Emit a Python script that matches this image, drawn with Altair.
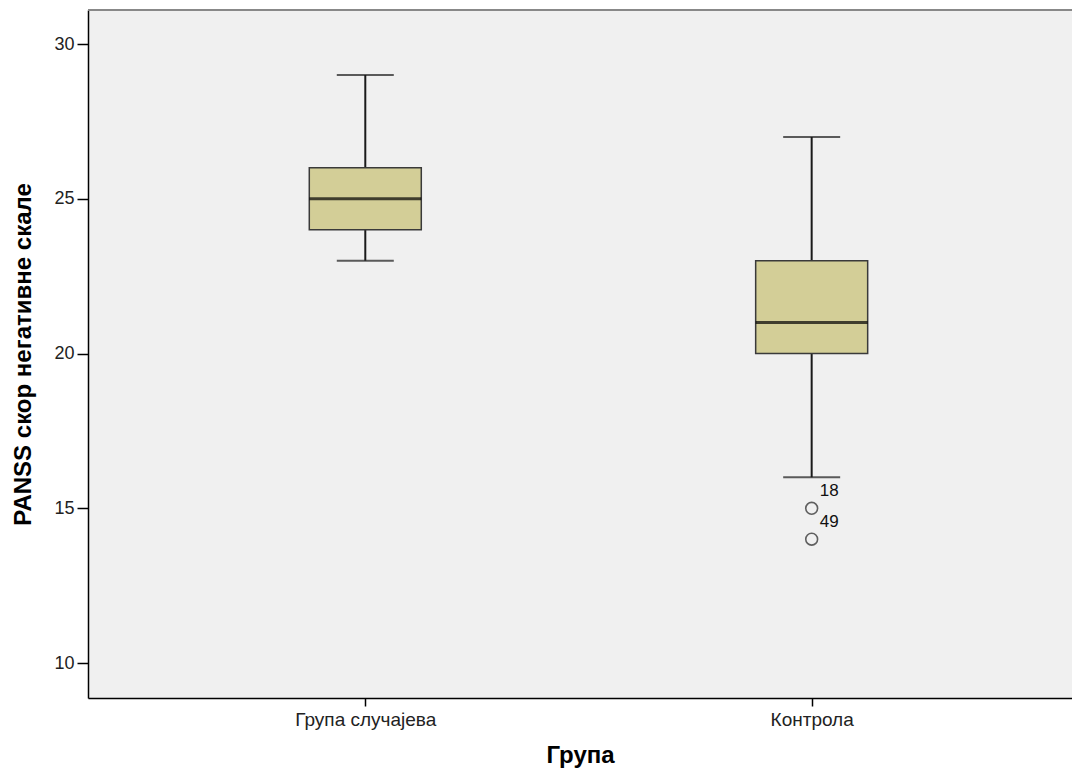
import altair as alt
import pandas as pd

# ---- data ----
groups = ["Група случајева", "Контрола"]
group_pos = [0, 1]
whisker_low = [23, 16]
q1 = [24, 20]
median = [25, 21]
q3 = [26, 23]
whisker_high = [29, 27]

outlier_pos = [1, 1]
outlier_values = [15, 14]
outlier_ids = ["18", "49"]

box_df = pd.DataFrame({
    "group": groups, "pos": group_pos, "low": whisker_low, "q1": q1,
    "median": median, "q3": q3, "high": whisker_high,
})
out_df = pd.DataFrame({"pos": outlier_pos, "value": outlier_values, "id": outlier_ids})

FONT = "Liberation Sans"
x_scale = alt.Scale(domain=[-0.61, 1.572], nice=False, zero=False)
y_scale = alt.Scale(domain=[8.87, 31.1], nice=False, zero=False)

label_expr = "datum.value == 0 ? '" + groups[0] + "' : '" + groups[1] + "'"

x_enc = alt.X("pos:Q", scale=x_scale, title="Група",
              axis=alt.Axis(values=group_pos, labelExpr=label_expr, grid=False,
                            tickSize=8, labelPadding=4, titlePadding=14,
                            labelFontSize=19, titleFontSize=24, titleFontWeight="bold"))
y_enc = alt.Y("low:Q", scale=y_scale, title="PANSS скор негативне скале",
              axis=alt.Axis(values=[10, 15, 20, 25, 30], grid=False, tickSize=11,
                            labelPadding=3, titlePadding=18,
                            labelFontSize=18, titleFontSize=24, titleFontWeight="bold"))

base = alt.Chart(box_df)

whiskers = base.mark_rule(color="#1a1a1a", strokeWidth=2).encode(
    x=x_enc, y=y_enc, y2="high:Q")

boxes = base.mark_bar(size=112, color="#D3CE97", stroke="#3a3a3a", strokeWidth=1.5).encode(
    x="pos:Q", y="q1:Q", y2="q3:Q")

med = base.mark_tick(orient="horizontal", size=112, thickness=3, color="#000000").encode(
    x="pos:Q", y="median:Q")

cap_low = base.mark_tick(orient="horizontal", size=57, thickness=2, color="#1a1a1a").encode(
    x="pos:Q", y="low:Q")
cap_high = base.mark_tick(orient="horizontal", size=57, thickness=2, color="#1a1a1a").encode(
    x="pos:Q", y="high:Q")

outliers = alt.Chart(out_df).mark_point(shape="circle", filled=False, size=140,
                                         strokeWidth=1.6, color="#222222").encode(
    x="pos:Q", y=alt.Y("value:Q"))

out_labels = alt.Chart(out_df).mark_text(align="left", dx=8, dy=-17, fontSize=17,
                                         font=FONT, color="#111111").encode(
    x="pos:Q", y="value:Q", text="id:N")

top_border = alt.Chart(box_df).mark_rule(color="#888888", strokeWidth=2).encode(
    x=alt.value(0), x2=alt.value(984), y=alt.value(0))

chart = alt.layer(whiskers, boxes, med, cap_low, cap_high, outliers, out_labels, top_border).properties(
    width=984, height=688,
    padding={"left": 80, "top": 2, "right": 0, "bottom": 74},
    autosize=alt.AutoSizeParams(type="none"),
).configure_view(
    fill="#F0F0F0", stroke=None
).configure_axis(
    domainColor="#000000", domainWidth=1.5, tickColor="#000000", tickWidth=1.5,
    labelColor="#222222", titleColor="#000000", labelFont=FONT, titleFont=FONT,
)

chart.save("out.html", embed_options={"renderer": "svg", "actions": False})
